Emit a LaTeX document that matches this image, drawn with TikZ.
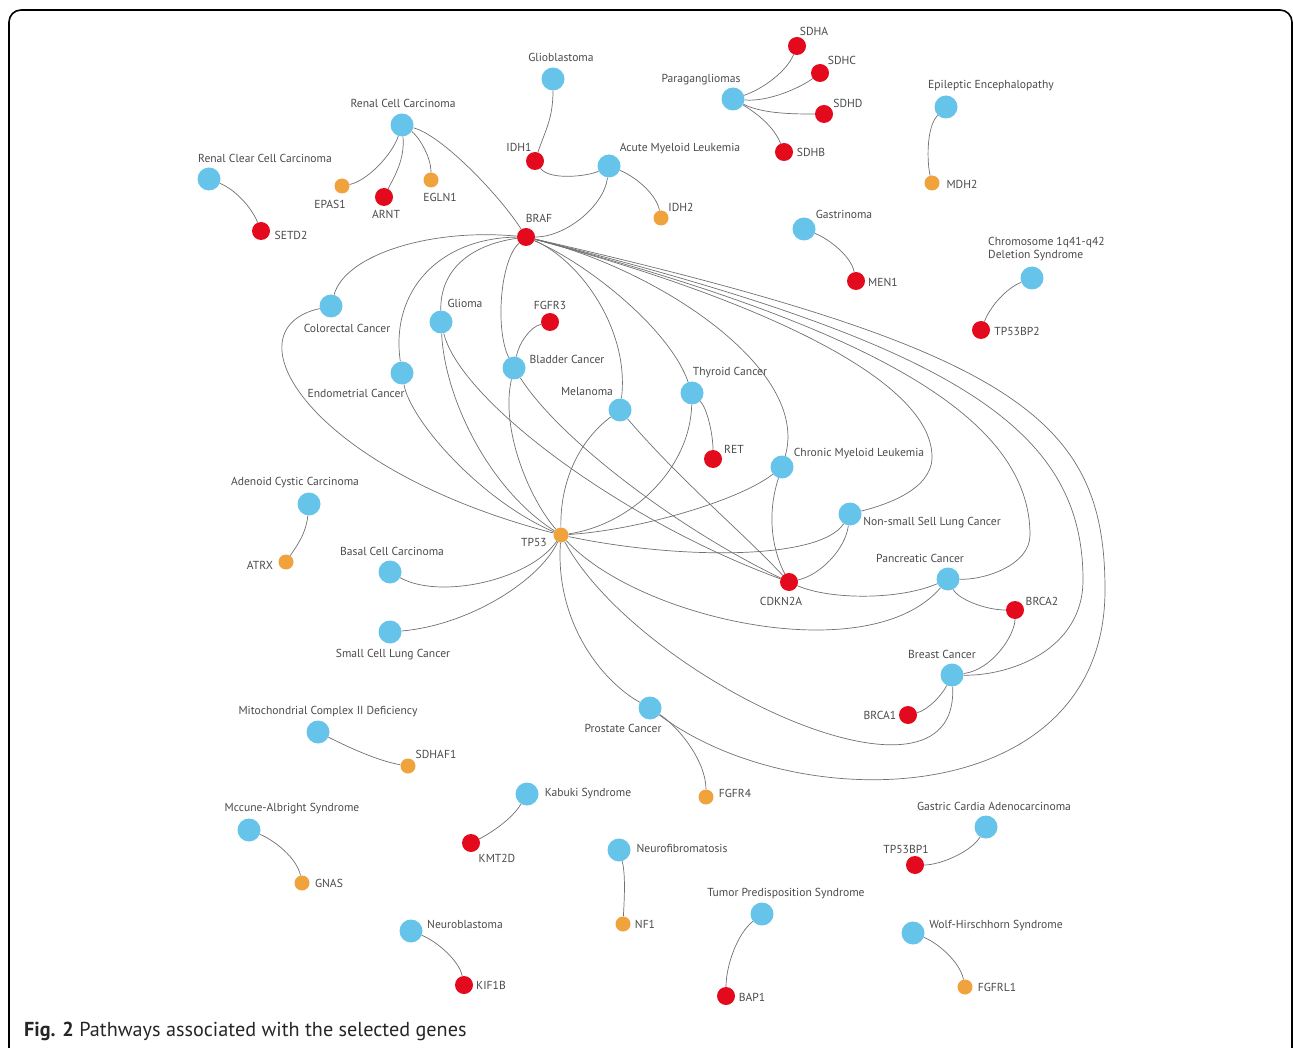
\documentclass[tikz,border=0pt]{standalone}
\usepackage{fontspec}
\setmainfont{PT Sans}
\usetikzlibrary{backgrounds}
\definecolor{celeste}{HTML}{66C4EB}
\definecolor{rojo}{HTML}{E30A1E}
\definecolor{naranja}{HTML}{F0A23C}
\definecolor{gris}{HTML}{707070}
\definecolor{texto}{HTML}{4A4A4A}

\begin{document}
\begin{tikzpicture}[
  x=1pt, y=-1pt,
  enf/.style={circle, fill=celeste, minimum size=23pt, inner sep=0pt},
  genr/.style={circle, fill=rojo, minimum size=18pt, inner sep=0pt},
  geno/.style={circle, fill=naranja, minimum size=15pt, inner sep=0pt},
  etiq/.style={font=\fontsize{11.6}{13.5}\selectfont, text=texto, inner sep=0pt},
  arista/.style={draw=gris, line width=0.7pt}
]
  \useasboundingbox (0,0) rectangle (1293,1048);
  \draw[line width=1.6pt, rounded corners=12pt] (9,1070) -- (9,10) -- (1292,10) -- (1292,1070);

  % top
  \node[enf] (glioblastoma) at (553,79) {};
  \node[etiq] (glioblastoma-t) at (561,57) {Glioblastoma};
  \node[enf] (paragan) at (733,99) {};
  \node[etiq] (paragan-t) at (701,80) {Paragangliomas};
  \node[genr] (sdha) at (797,46) {};
  \node[etiq] (sdha-t) at (814,31) {SDHA};
  \node[genr] (sdhc) at (820,73) {};
  \node[etiq] (sdhc-t) at (842,60) {SDHC};
  \node[genr] (sdhd) at (824,114) {};
  \node[etiq] (sdhd-t) at (848,103) {SDHD};
  \node[genr] (sdhb) at (784,152) {};
  \node[etiq] (sdhb-t) at (811,152) {SDHB};
  \node[enf] (rcc) at (402,125) {};
  \node[etiq] (rcc-t) at (403,103) {Renal Cell Carcinoma};
  \node[enf] (rccc) at (209,179) {};
  \node[etiq] (rccc-t) at (265,158) {Renal Clear Cell Carcinoma};
  \node[geno] (epas1) at (342,186) {};
  \node[etiq] (epas1-t) at (330,204) {EPAS1};
  \node[genr] (arnt) at (384,197) {};
  \node[etiq] (arnt-t) at (386,214) {ARNT};
  \node[geno] (egln1) at (431,180) {};
  \node[etiq] (egln1-t) at (440,197) {EGLN1};
  \node[genr] (setd2) at (261,231) {};
  \node[etiq] (setd2-t) at (291,235) {SETD2};
  \node[genr] (idh1) at (535,161) {};
  \node[etiq] (idh1-t) at (519,147) {IDH1};
  \node[enf] (aml) at (609,166) {};
  \node[etiq] (aml-t) at (680,149) {Acute Myeloid Leukemia};
  \node[geno] (idh2) at (661,218) {};
  \node[etiq] (idh2-t) at (681,207) {IDH2};
  \node[genr] (braf) at (526,237) {};
  \node[etiq] (braf-t) at (539,218) {BRAF};
  \node[enf] (epilep) at (946,107) {};
  \node[etiq] (epilep-t) at (991,86) {Epileptic Encephalopathy};
  \node[geno] (mdh2) at (932,183) {};
  \node[etiq] (mdh2-t) at (962,184) {MDH2};
  \node[enf] (gastri) at (804,229) {};
  \node[etiq] (gastri-t) at (844,214) {Gastrinoma};
  \node[genr] (men1) at (856,281) {};
  \node[etiq] (men1-t) at (883,282) {MEN1};
  \node[enf] (cromo) at (1032,278) {};
  \node[etiq, anchor=west, align=left] (cromo-t) at (988,249) {Chromosome 1q41-q42\\Deletion Syndrome};
  \node[genr] (tp53bp2) at (981,330) {};
  \node[etiq] (tp53bp2-t) at (1017,331) {TP53BP2};

  % centro
  \node[enf] (colo) at (331,306) {};
  \node[etiq] (colo-t) at (347,328) {Colorectal Cancer};
  \node[enf] (glioma) at (441,322) {};
  \node[etiq] (glioma-t) at (465,303) {Glioma};
  \node[genr] (fgfr3) at (550,322) {};
  \node[etiq] (fgfr3-t) at (550,305) {FGFR3};
  \node[enf] (endo) at (402,373) {};
  \node[etiq] (endo-t) at (356,393) {Endometrial Cancer};
  \node[enf] (vejiga) at (514,368) {};
  \node[etiq] (vejiga-t) at (567,359) {Bladder Cancer};
  \node[enf] (melan) at (620,410) {};
  \node[etiq] (melan-t) at (587,392) {Melanoma};
  \node[enf] (tiroi) at (692,393) {};
  \node[etiq] (tiroi-t) at (730,373) {Thyroid Cancer};
  \node[genr] (ret) at (713,459) {};
  \node[etiq] (ret-t) at (734,449) {RET};
  \node[enf] (cml) at (782,467) {};
  \node[etiq] (cml-t) at (859,454) {Chronic Myeloid Leukemia};
  \node[enf] (nsclc) at (850,514) {};
  \node[etiq] (nsclc-t) at (932,523) {Non-small Sell Lung Cancer};
  \node[enf] (pancr) at (948,579) {};
  \node[etiq] (pancr-t) at (920,558) {Pancreatic Cancer};
  \node[genr] (cdkn2a) at (789,582) {};
  \node[etiq] (cdkn2a-t) at (781,601) {CDKN2A};
  \node[genr] (brca2) at (1015,610) {};
  \node[etiq] (brca2-t) at (1042,601) {BRCA2};
  \node[enf] (mama) at (952,675) {};
  \node[etiq] (mama-t) at (942,654) {Breast Cancer};
  \node[genr] (brca1) at (908,715) {};
  \node[etiq] (brca1-t) at (880,715) {BRCA1};
  \node[enf] (adcc) at (309,504) {};
  \node[etiq] (adcc-t) at (295,483) {Adenoid Cystic Carcinoma};
  \node[geno] (atrx) at (286,562) {};
  \node[etiq] (atrx-t) at (260,565) {ATRX};
  \node[geno] (tp53) at (561,535) {};
  \node[etiq] (tp53-t) at (534,542) {TP53};
  \node[enf] (basal) at (390,572) {};
  \node[etiq] (basal-t) at (392,551) {Basal Cell Carcinoma};
  \node[enf] (sclc) at (390,632) {};
  \node[etiq] (sclc-t) at (393,655) {Small Cell Lung Cancer};
  \node[enf] (prost) at (650,708) {};
  \node[etiq] (prost-t) at (623,728) {Prostate Cancer};
  \node[geno] (fgfr4) at (706,797) {};
  \node[etiq] (fgfr4-t) at (735,793) {FGFR4};

  % abajo
  \node[enf] (mito) at (318,732) {};
  \node[etiq] (mito-t) at (328,712) {Mitochondrial Complex II Deficiency};
  \node[geno] (sdhaf1) at (408,766) {};
  \node[etiq] (sdhaf1-t) at (436,754) {SDHAF1};
  \node[enf] (mccune) at (249,830) {};
  \node[etiq] (mccune-t) at (292,809) {Mccune-Albright Syndrome};
  \node[geno] (gnas) at (302,883) {};
  \node[etiq] (gnas-t) at (329,883) {GNAS};
  \node[enf] (kabuki) at (527,794) {};
  \node[etiq] (kabuki-t) at (588,794) {Kabuki Syndrome};
  \node[genr] (kmt2d) at (471,843) {};
  \node[etiq] (kmt2d-t) at (497,858) {KMT2D};
  \node[enf] (neurof) at (619,850) {};
  \node[etiq] (neurof-t) at (682,848) {Neurofibromatosis};
  \node[geno] (nf1) at (623,924) {};
  \node[etiq] (nf1-t) at (645,924) {NF1};
  \node[enf] (neurob) at (411,931) {};
  \node[etiq] (neurob-t) at (465,924) {Neuroblastoma};
  \node[genr] (kif1b) at (464,985) {};
  \node[etiq] (kif1b-t) at (491,985) {KIF1B};
  \node[enf] (tumor) at (762,914) {};
  \node[etiq] (tumor-t) at (786,894) {Tumor Predisposition Syndrome};
  \node[genr] (bap1) at (726,996) {};
  \node[etiq] (bap1-t) at (752,997) {BAP1};
  \node[enf] (gastric) at (986,827) {};
  \node[etiq] (gastric-t) at (994,806) {Gastric Cardia Adenocarcinoma};
  \node[genr] (tp53bp1) at (915,865) {};
  \node[etiq] (tp53bp1-t) at (906,849) {TP53BP1};
  \node[enf] (wolf) at (913,933) {};
  \node[etiq] (wolf-t) at (996,926) {Wolf-Hirschhorn Syndrome};
  \node[geno] (fgfrl1) at (965,987) {};
  \node[etiq] (fgfrl1-t) at (997,987) {FGFRL1};

  \node[anchor=west, inner sep=0pt, font=\fontsize{20.2}{23}\selectfont, text=black!85] (pie) at (24,1031)
        {\textbf{Fig. 2} Pathways associated with the selected genes};

  \begin{pgfonlayer}{background}
  % pares sueltos
  \draw[arista] (glioblastoma) .. controls (553,119) and (545,131) .. (idh1);
  \draw[arista] (idh1) .. controls (550,181) and (589,176) .. (aml);
  \draw[arista] (aml) .. controls (634,176) and (656,193) .. (idh2);
  \draw[arista] (aml) .. controls (604,206) and (566,237) .. (braf);
  \draw[arista] (paragan) .. controls (763,89) and (787,71) .. (sdha);
  \draw[arista] (paragan) .. controls (768,102) and (800,88) .. (sdhc);
  \draw[arista] (paragan) .. controls (763,114) and (794,114) .. (sdhd);
  \draw[arista] (paragan) .. controls (758,114) and (774,127) .. (sdhb);
  \draw[arista] (rcc) .. controls (392,155) and (367,181) .. (epas1);
  \draw[arista] (rcc) .. controls (405,160) and (394,177) .. (arnt);
  \draw[arista] (rcc) .. controls (417,135) and (431,155) .. (egln1);
  \draw[arista] (rcc) .. controls (442,135) and (501,197) .. (braf);
  \draw[arista] (rccc) .. controls (234,189) and (251,206) .. (setd2);
  \draw[arista] (epilep) .. controls (926,127) and (927,163) .. (mdh2);
  \draw[arista] (gastri) .. controls (829,239) and (851,256) .. (men1);
  \draw[arista] (cromo) .. controls (1007,288) and (991,305) .. (tp53bp2);
  \draw[arista] (adcc) .. controls (306,534) and (296,547) .. (atrx);
  \draw[arista] (mito) .. controls (348,747) and (378,761) .. (sdhaf1);
  \draw[arista] (mccune) .. controls (274,840) and (297,858) .. (gnas);
  \draw[arista] (kabuki) .. controls (512,819) and (491,833) .. (kmt2d);
  \draw[arista] (neurof) .. controls (626,875) and (624,904) .. (nf1);
  \draw[arista] (neurob) .. controls (436,941) and (459,960) .. (kif1b);
  \draw[arista] (tumor) .. controls (737,934) and (726,966) .. (bap1);
  \draw[arista] (gastric) .. controls (971,852) and (940,865) .. (tp53bp1);
  \draw[arista] (wolf) .. controls (938,943) and (960,962) .. (fgfrl1);
  \draw[arista] (tiroi) .. controls (707,408) and (713,434) .. (ret);
  \draw[arista] (vejiga) .. controls (519,343) and (530,327) .. (fgfr3);
  \draw[arista] (pancr) .. controls (958,599) and (985,610) .. (brca2);
  \draw[arista] (mama) .. controls (992,670) and (1015,635) .. (brca2);
  \draw[arista] (mama) .. controls (942,695) and (928,710) .. (brca1);
  \draw[arista] (prost) .. controls (680,728) and (706,762) .. (fgfr4);

  % BRAF
  \draw[arista] (braf) .. controls (430,228) and (345,255) .. (colo);
  \draw[arista] (braf) .. controls (440,238) and (390,290) .. (endo);
  \draw[arista] (braf) .. controls (470,245) and (440,270) .. (glioma);
  \draw[arista] (braf) .. controls (500,260) and (495,330) .. (vejiga);
  \draw[arista] (braf) .. controls (580,260) and (630,330) .. (melan);
  \draw[arista] (braf) .. controls (590,265) and (670,330) .. (tiroi);
  \draw[arista] (braf) .. controls (660,270) and (810,370) .. (cml);
  \draw[arista] (braf) .. controls (760,300) and (932,380) .. (932,457)
                       .. controls (932,490) and (885,505) .. (nsclc);
  \draw[arista] (braf) .. controls (880,330) and (1030,420) .. (1030,535)
                       .. controls (1030,565) and (985,580) .. (pancr);
  \draw[arista] (braf) .. controls (960,345) and (1083,430) .. (1083,580)
                       .. controls (1083,650) and (1010,676) .. (mama);
  \draw[arista] (braf) .. controls (1020,350) and (1105,420) .. (1105,590)
                       .. controls (1105,810) and (800,820) .. (prost);

  % TP53
  \draw[arista] (colo) .. controls (225,330) and (310,470) .. (tp53);
  \draw[arista] (endo) .. controls (410,420) and (480,500) .. (tp53);
  \draw[arista] (glioma) .. controls (445,400) and (490,490) .. (tp53);
  \draw[arista] (vejiga) .. controls (500,430) and (530,500) .. (tp53);
  \draw[arista] (melan) .. controls (580,440) and (560,480) .. (tp53);
  \draw[arista] (tiroi) .. controls (690,470) and (630,525) .. (tp53);
  \draw[arista] (cml) .. controls (740,500) and (640,530) .. (tp53);
  \draw[arista] (nsclc) .. controls (820,560) and (680,560) .. (tp53);
  \draw[arista] (basal) .. controls (440,600) and (530,580) .. (tp53);
  \draw[arista] (sclc) .. controls (470,625) and (540,580) .. (tp53);
  \draw[arista] (tp53) .. controls (555,620) and (600,680) .. (prost);
  \draw[arista] (tp53) .. controls (640,620) and (870,670) .. (pancr);
  \draw[arista] (tp53) .. controls (640,680) and (960,830) .. (mama);

  % CDKN2A
  \draw[arista] (glioma) .. controls (460,400) and (620,520) .. (cdkn2a);
  \draw[arista] (vejiga) .. controls (560,440) and (680,530) .. (cdkn2a);
  \draw[arista] (melan) .. controls (680,480) and (740,530) .. (cdkn2a);
  \draw[arista] (cml) .. controls (765,520) and (775,555) .. (cdkn2a);
  \draw[arista] (nsclc) .. controls (845,550) and (820,575) .. (cdkn2a);
  \draw[arista] (cdkn2a) .. controls (830,600) and (900,600) .. (pancr);
  \end{pgfonlayer}
\end{tikzpicture}
\end{document}
